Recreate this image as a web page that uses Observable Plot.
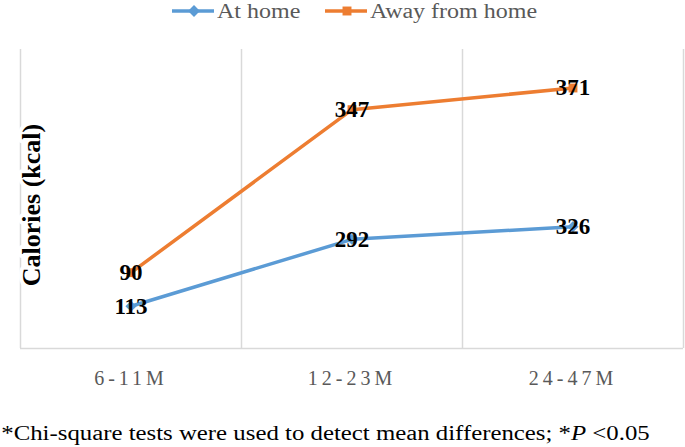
<!DOCTYPE html>
<html><head><meta charset="utf-8">
<script src="https://cdn.jsdelivr.net/npm/d3@7"></script>
<script src="https://cdn.jsdelivr.net/npm/@observablehq/plot@0.6"></script>
<style>
body{margin:0;background:#fff;font-family:"Liberation Serif","Times New Roman",serif;width:685px;height:447px;overflow:hidden;}
#legend{height:24px;position:relative;color:#595959;font-size:20px;line-height:23px;}
#legend svg{position:absolute;top:3.5px;}
#legend span{position:absolute;top:0px;white-space:nowrap;transform:scaleX(1.2);transform-origin:left center;}
#chart svg{display:block;}
#chart g[aria-label="x-axis tick label"] text{letter-spacing:4px;}
#note{margin-top:26px;font-size:20px;line-height:24px;color:#000;padding-left:1px;white-space:nowrap;transform:scaleX(1.24);transform-origin:left center;}
</style></head><body>
<div id="legend"></div>
<div id="chart"></div>
<div id="note">*Chi-square tests were used to detect mean differences; *<i>P</i> &lt;0.05</div>
<script>
const ages = ["6-11M", "12-23M", "24-47M"];
const series = ["At home", "Away from home"];
const atHome = [113, 292, 326];
const awayFromHome = [90, 347, 371];
const colors = ["#5B9BD5", "#ED7D31"];
const symbols = ["diamond2", "square"];
const yLabel = "Calories (kcal)";
const yMax = 800;

const values = [atHome, awayFromHome];
const data = [];
series.forEach((s, i) => ages.forEach((a, j) => data.push({age: a, series: s, value: values[i][j]})));

// legend (absolute placement of swatches and labels)
const legendLeft = [172, 325];
const lg = d3.select("#legend");
series.forEach((s, i) => {
  const sv = lg.append("svg").attr("width", 42).attr("height", 14).style("left", legendLeft[i] + "px");
  sv.append("line").attr("x1", 0).attr("x2", 42).attr("y1", 7).attr("y2", 7)
    .attr("stroke", colors[i]).attr("stroke-width", 3.5);
  const sym = i === 0 ? d3.symbol(d3.symbolDiamond2, 90) : d3.symbol(d3.symbolSquare, 80);
  sv.append("path").attr("d", sym()).attr("transform", "translate(22,7)").attr("fill", colors[i]);
  lg.append("span").style("left", (legendLeft[i] + 45) + "px").text(s);
});

const W = 685, H = 371, mL = 20, mR = 2, mT = 25, mB = 47;
const bw = (W - mL - mR) / ages.length;
const grid = "#d9d9d9";

const chart = Plot.plot({
  width: W, height: H,
  marginLeft: mL, marginRight: mR, marginTop: mT, marginBottom: mB,
  style: {fontFamily: '"Liberation Serif","Times New Roman",serif', background: "#fff"},
  x: {type: "band", domain: ages, padding: 0},
  y: {domain: [0, yMax]},
  color: {domain: series, range: colors},
  symbol: {domain: series, range: symbols},
  marks: [
    Plot.ruleX(ages, {x: d => d, dx: bw / 2, stroke: grid, strokeWidth: 1.5}),
    Plot.ruleX(ages.slice(0, 1), {x: d => d, dx: -bw / 2, stroke: grid, strokeWidth: 1.5}),
    Plot.ruleY([0], {stroke: grid, strokeWidth: 1.5}),
    Plot.text([yLabel], {frameAnchor: "left", dx: 11, dy: 6, rotate: -90, text: d => d, textAnchor: "middle",
      fontSize: 26, fontWeight: "bold", fill: "#000", stroke: "#fff", strokeWidth: 8}),
    Plot.lineY(data, Plot.stackY2({x: "age", y: "value", z: "series", stroke: "series", strokeWidth: 3.5})),
    Plot.dot(data, Plot.stackY2({x: "age", y: "value", z: "series", fill: "series", symbol: "series", r: 5})),
    Plot.text(data, Plot.stackY2({x: "age", y: "value", z: "series", text: "value",
      fontSize: 23, fontWeight: "bold", fill: "#000"})),
    Plot.axisX({tickSize: 0, tickPadding: 22, fontSize: 20, fill: "#595959", label: null}),
    Plot.axisY({ticks: [], label: null})
  ]
});
document.getElementById("chart").appendChild(chart);
</script>
</body></html>
